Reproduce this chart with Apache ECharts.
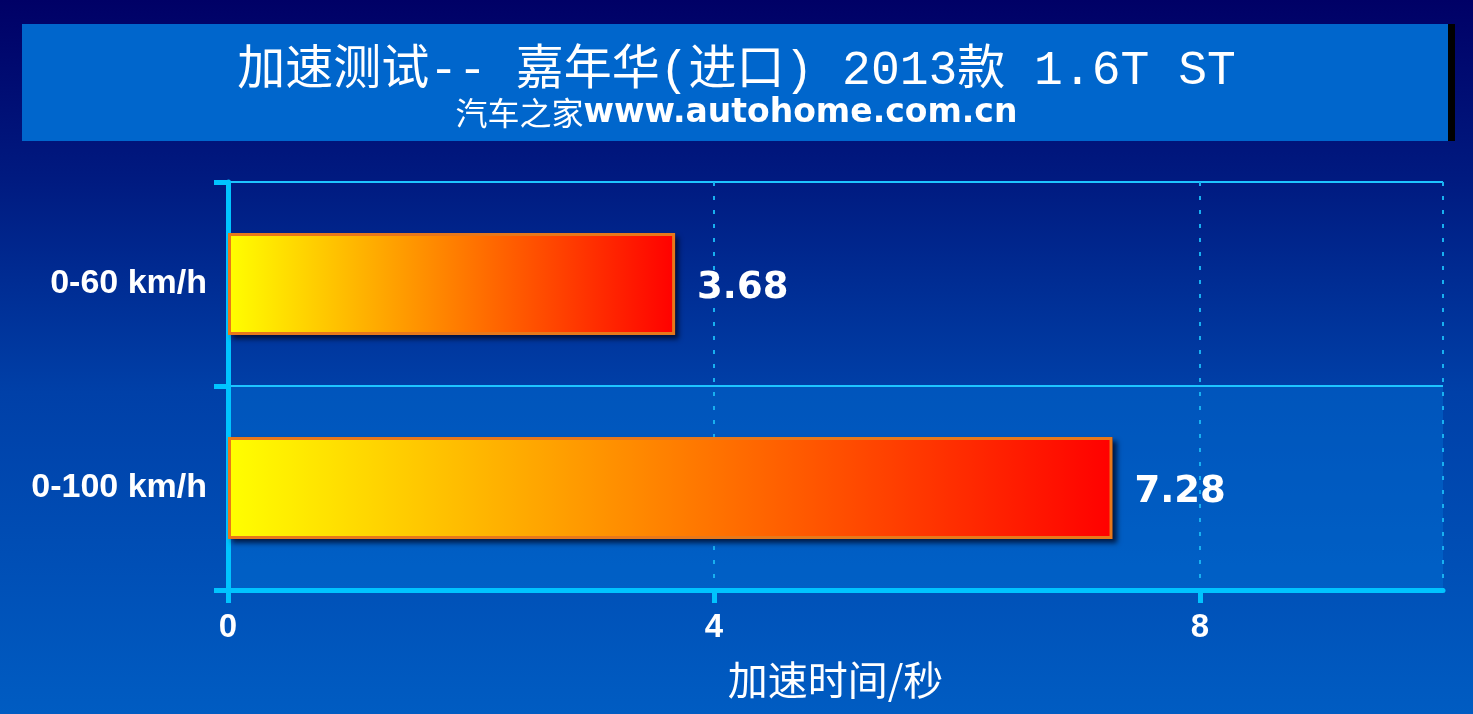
<!DOCTYPE html>
<html>
<head>
<meta charset="utf-8">
<script src="https://cdn.jsdelivr.net/npm/echarts@6/dist/echarts.min.js"></script>
<style>
html,body{margin:0;padding:0;width:1473px;height:714px;overflow:hidden;}
#c{width:1473px;height:714px;}
</style>
</head>
<body>
<div id="c"></div>
<script>
const titleText = '加速测试-- 嘉年华(进口) 2013款 1.6T ST';
const subtitleCn = '汽车之家';
const subtitleUrl = 'www.autohome.com.cn';
const categories = ['0-60 km/h', '0-100 km/h'];
const values = [3.68, 7.28];
const xTicks = [0, 4, 8];
const xMax = 10;
const xName = '加速时间/秒';

const chart = echarts.init(document.getElementById('c'));
const cyan = '#00c4ff';
const barGradient = () => new echarts.graphic.LinearGradient(0, 0, 1, 0, [
  {offset: 0, color: '#ffff00'},
  {offset: 1, color: '#ff0000'}
]);
const option = {
  backgroundColor: new echarts.graphic.LinearGradient(0, 0, 0, 1, [
    {offset: 0, color: '#000066'},
    {offset: 0.25, color: '#001a80'},
    {offset: 0.55, color: '#0040a8'},
    {offset: 1, color: '#005cc2'}
  ]),
  graphic: [
    {type: 'rect', z: 0, shape: {x: 22, y: 24, width: 1426, height: 117}, style: {fill: '#0066cc'}},
    {type: 'rect', z: 0, shape: {x: 1448, y: 24, width: 7, height: 117}, style: {fill: '#000000'}}
  ],
  title: [
    {
      text: titleText,
      left: 'center',
      top: 37,
      textStyle: {color: '#ffffff', fontSize: 48, fontWeight: 'normal', fontFamily: '"Liberation Mono", "Noto Sans CJK SC"', lineHeight: 58}
    },
    {
      text: '{a|' + subtitleCn + '}{b|' + subtitleUrl + '}',
      left: 'center',
      top: 89,
      textStyle: {
        rich: {
          a: {color: '#ffffff', fontSize: 32, fontFamily: '"Noto Sans CJK SC"', fontWeight: 'normal', lineHeight: 38},
          b: {color: '#ffffff', fontSize: 33, fontFamily: '"DejaVu Sans"', fontWeight: 'bold', lineHeight: 38}
        }
      }
    }
  ],
  grid: {left: 228, right: 30, top: 182, bottom: 124, outerBoundsMode: 'none', containLabel: false},
  xAxis: [
    {
      type: 'value', min: 0, max: xMax, interval: 4,
      name: xName, nameLocation: 'middle', nameGap: 70,
      nameTextStyle: {color: '#ffffff', fontSize: 40, fontFamily: '"Noto Sans CJK SC"'},
      axisLine: {show: true, lineStyle: {color: cyan, width: 5}},
      axisTick: {show: true, length: 13, lineStyle: {color: cyan, width: 5}, customValues: xTicks},
      axisLabel: {color: '#ffffff', fontSize: 33, fontWeight: 'bold', fontFamily: '"Liberation Sans"', margin: 21, customValues: xTicks},
      splitLine: {show: false}
    },
    {
      type: 'value', min: 0, max: xMax, interval: 4, position: 'bottom',
      axisLine: {show: false}, axisTick: {show: false}, axisLabel: {show: false},
      splitLine: {show: true, lineStyle: {color: '#18b0f0', width: 2, type: [4, 10]}}
    }
  ],
  yAxis: {
    type: 'category', data: categories, inverse: true,
    axisLine: {show: true, lineStyle: {color: cyan, width: 5}},
    axisTick: {show: true, length: 14, lineStyle: {color: cyan, width: 5}},
    axisLabel: {color: '#ffffff', fontSize: 34, fontWeight: 'bold', fontFamily: '"Liberation Sans"', margin: 21, lineHeight: 46, verticalAlign: 'middle', padding: [8, 0, 0, 0]},
    splitLine: {show: true, lineStyle: {color: '#1ec4ff', width: 2}},
    splitArea: {show: true, areaStyle: {color: ['rgba(0,0,0,0)', 'rgba(0,120,220,0.38)']}}
  },
  series: [
    {
      type: 'bar', xAxisIndex: 0, data: values, barWidth: '50%', barGap: '-100%', silent: true, z: 1,
      itemStyle: {
        color: '#00104a',
        shadowColor: 'rgba(0,0,20,0.7)', shadowBlur: 5, shadowOffsetX: 4, shadowOffsetY: 4
      }
    },
    {
      type: 'bar', xAxisIndex: 0, data: values, barWidth: '50%', barGap: '-100%', z: 2,
      itemStyle: {
        color: barGradient(),
        borderColor: '#e8781a', borderWidth: 3
      },
      label: {show: true, position: 'right', distance: 22, offset: [0, 4], color: '#ffffff', fontSize: 37, fontWeight: 'bold', fontFamily: '"DejaVu Sans"'}
    }
  ]
};
chart.setOption(option);
</script>
</body>
</html>
